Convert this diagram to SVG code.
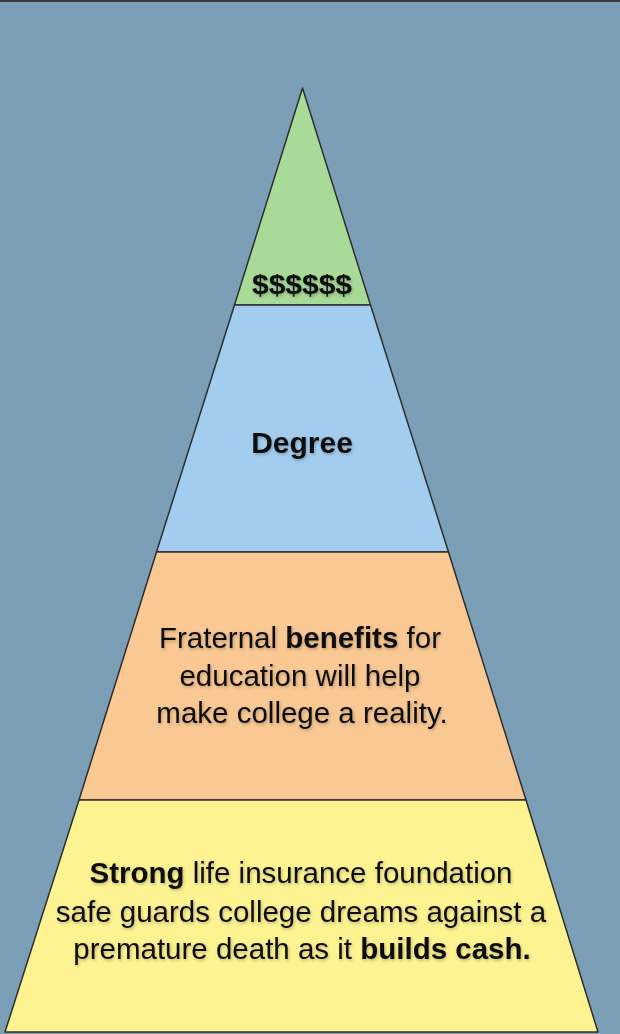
<svg xmlns="http://www.w3.org/2000/svg" width="620" height="1034" viewBox="0 0 620 1034">
<style>
.tier{stroke:#2e2e2e;stroke-width:1.5;stroke-linejoin:round}
.t{font-family:"Liberation Sans",Arial,sans-serif;fill:#111;text-anchor:middle;font-size:29.5px;filter:url(#sh)}
.b{font-weight:bold}
</style>
<defs>
<filter id="sh" x="-10%" y="-30%" width="120%" height="160%">
<feDropShadow dx="1" dy="1.5" stdDeviation="1.5" flood-color="#000" flood-opacity="0.25"/>
</filter>
</defs>
<rect x="0" y="0" width="620" height="1034" fill="#7b9fb7"/>
<rect x="0" y="0" width="620" height="2" fill="#3a3a3a"/>
<g id="tier-top">
<polygon class="tier" points="302.5,88 370.5,305 234.5,305" fill="#a8db98"/>
<text class="t b" x="302" y="294" style="font-size:28px" textLength="100" lengthAdjust="spacingAndGlyphs">$$$$$$</text>
</g>
<g id="tier-degree">
<polygon class="tier" points="234.5,305 370.5,305 448.5,552 156.5,552" fill="#a3cdef"/>
<text class="t b" x="302" y="453" style="font-size:30px">Degree</text>
</g>
<g id="tier-benefits">
<polygon class="tier" points="156.5,552 448.5,552 526,800 79,800" fill="#f9c893"/>
<text class="t" x="300" y="648">Fraternal <tspan class="b">benefits</tspan> for</text>
<text class="t" x="300" y="686">education will help</text>
<text class="t" x="302" y="723">make college a reality.</text>
</g>
<g id="tier-foundation">
<polygon class="tier" points="79,800 526,800 598,1032 5,1032" fill="#fdf391"/>
<text class="t" x="301" y="883"><tspan class="b">Strong</tspan> life insurance foundation</text>
<text class="t" x="301" y="922">safe guards college dreams against a</text>
<text class="t" x="302" y="959">premature death as it <tspan class="b">builds cash.</tspan></text>
</g>
</svg>
